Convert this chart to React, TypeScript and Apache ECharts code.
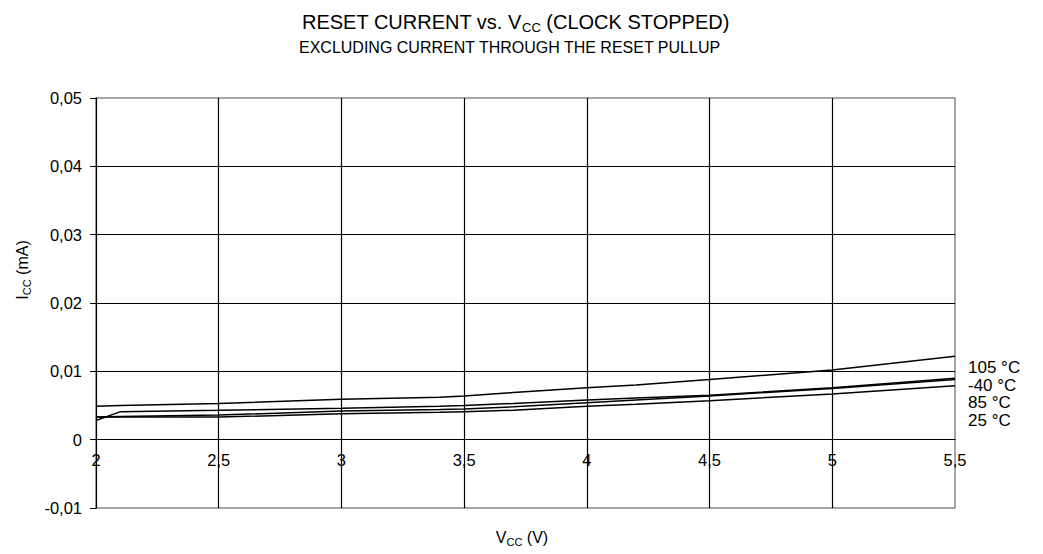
import React, { useEffect, useRef } from "react";
import * as echarts from "echarts";

const vcc = [2.0, 2.1, 2.5, 3.0, 3.4, 3.5, 3.7, 4.0, 4.2, 4.5, 5.0, 5.5];
const t105 = [0.0049, 0.005, 0.0053, 0.0059, 0.0062, 0.0064, 0.0069, 0.0076, 0.008, 0.0088, 0.0102, 0.0122];
const tm40 = [0.0028, 0.0041, 0.0043, 0.0046, 0.0049, 0.005, 0.0053, 0.0058, 0.0061, 0.0065, 0.0076, 0.009];
const t85 = [0.0033, 0.0034, 0.0036, 0.0042, 0.0044, 0.0045, 0.0048, 0.0054, 0.0058, 0.0064, 0.0075, 0.0088];
const t25 = [0.0033, 0.0033, 0.0033, 0.0038, 0.004, 0.0041, 0.0043, 0.0049, 0.0052, 0.0057, 0.0067, 0.0079];
const seriesNames = ["105 °C", "-40 °C", "85 °C", "25 °C"];
const seriesData = [t105, tm40, t85, t25];

const FONT = "'Liberation Sans', Arial, sans-serif";
const fmt = (v: number) => (Math.abs(v) < 1e-9 ? "0" : String(Math.round(v * 1000) / 1000).replace(".", ","));

export default function App() {
  const ref = useRef<HTMLDivElement>(null);
  useEffect(() => {
    if (!ref.current) return;
    const chart = echarts.init(ref.current, undefined, { renderer: "svg" });
    const subStyle = (size: number) => ({
      fontFamily: FONT,
      fontSize: size,
      verticalAlign: "bottom",
      lineHeight: size,
      color: "#000",
      fill: "#000",
    });
    chart.setOption({
      animation: false,
      backgroundColor: "#fff",
      title: [
        {
          text: "RESET CURRENT vs. V{sub|CC} (CLOCK STOPPED)",
          left: 297,
          top: 5,
          textStyle: {
            fontFamily: FONT,
            fontSize: 20,
            lineHeight: 24,
            fontWeight: "normal",
            color: "#000",
            rich: { sub: subStyle(13) },
          },
        },
        {
          text: "EXCLUDING CURRENT THROUGH THE RESET PULLUP",
          left: 294,
          top: 34,
          textStyle: { fontFamily: FONT, fontSize: 16, fontWeight: "normal", color: "#000" },
        },
      ],
      grid: { left: 96, right: 88, top: 98, bottom: 46, show: true, borderColor: "#888", borderWidth: 1.5 },
      xAxis: {
        type: "value",
        min: 2,
        max: 5.5,
        interval: 0.5,
        offset: -68.33,
        axisLine: { onZero: false, lineStyle: { color: "#000", width: 1 } },
        axisTick: { show: false },
        axisLabel: { formatter: fmt, color: "#000", fontFamily: FONT, fontSize: 16.5, margin: 12 },
        splitLine: { show: true, showMinLine: false, showMaxLine: false, lineStyle: { color: "#000", width: 1.2 } },
      },
      yAxis: {
        type: "value",
        min: -0.01,
        max: 0.05,
        interval: 0.01,
        axisLine: { show: true, onZero: false, lineStyle: { color: "#000", width: 1.2 } },
        axisTick: { show: true, length: 6, inside: false, lineStyle: { color: "#000" } },
        axisLabel: { formatter: fmt, color: "#000", fontFamily: FONT, fontSize: 16.5, margin: 14 },
        splitLine: { show: true, showMinLine: false, showMaxLine: false, lineStyle: { color: "#000", width: 1.2 } },
      },
      graphic: [
        {
          type: "text",
          x: 22,
          y: 270,
          rotation: Math.PI / 2,
          style: {
            text: "I{sub|CC} (mA)",
            fill: "#000",
            font: "16px " + FONT,
            lineHeight: 20,
            align: "center",
            verticalAlign: "middle",
            rich: { sub: subStyle(11) },
          },
        },
        {
          type: "text",
          x: 522,
          y: 537,
          style: {
            text: "V{sub|CC} (V)",
            fill: "#000",
            font: "16px " + FONT,
            lineHeight: 20,
            align: "center",
            verticalAlign: "middle",
            rich: { sub: subStyle(11) },
          },
        },
        ...seriesNames.map((n, i) => ({
          type: "text",
          x: 968,
          y: [367, 385, 402, 420][i],
          style: { text: n, fill: "#000", font: "17px " + FONT, align: "left", verticalAlign: "middle" },
        })),
      ],
      series: seriesData.map((d, i) => ({
        name: seriesNames[i],
        type: "line",
        data: vcc.map((x, j) => [x, d[j]]),
        showSymbol: false,
        symbol: "none",
        lineStyle: { color: "#000", width: 1.5 },
      })),
    });
    return () => chart.dispose();
  }, []);
  return <div ref={ref} style={{ width: 1043, height: 554, position: "absolute", left: 0, top: 0 }} />;
}
